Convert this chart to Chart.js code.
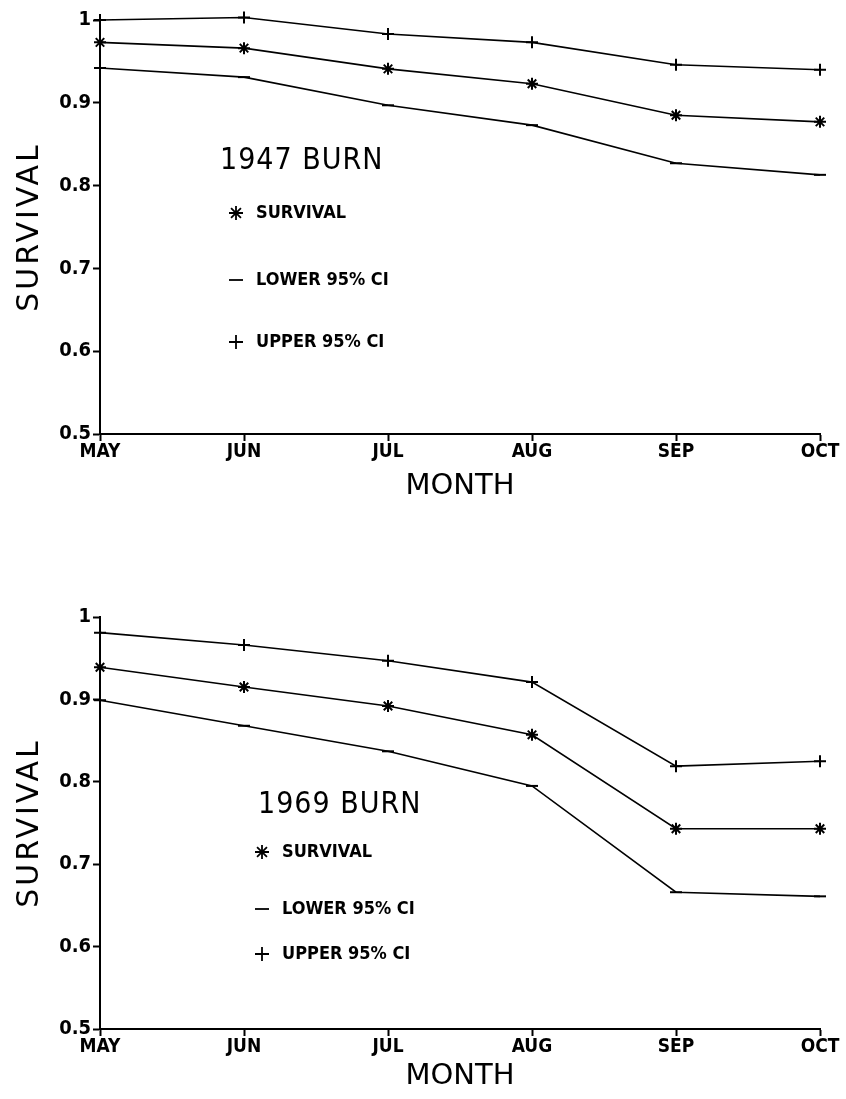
<!DOCTYPE html>
<html>
<head>
<meta charset="utf-8">
<script src="https://cdn.jsdelivr.net/npm/chart.js@4.4.1/dist/chart.umd.min.js"></script>
<style>
  body { margin: 0; background: #fff; }
  .box { position: relative; width: 846px; height: 549px; }
</style>
</head>
<body>
<div class="box"><canvas id="c1"></canvas></div>
<div class="box"><canvas id="c2"></canvas></div>
<script>
const months = ['MAY', 'JUN', 'JUL', 'AUG', 'SEP', 'OCT'];

// 1947 burn
const surv1947 = [0.973, 0.966, 0.941, 0.923, 0.885, 0.877];
const lower1947 = [0.942, 0.931, 0.897, 0.873, 0.827, 0.813];
const upper1947 = [1.0, 1.003, 0.983, 0.973, 0.946, 0.940];

// 1969 burn
const surv1969 = [0.939, 0.915, 0.892, 0.857, 0.743, 0.743];
const lower1969 = [0.899, 0.868, 0.837, 0.795, 0.666, 0.661];
const upper1969 = [0.981, 0.966, 0.947, 0.921, 0.819, 0.825];

const legendLabels = ['SURVIVAL', 'LOWER 95% CI', 'UPPER 95% CI'];
const markerStyles = ['star', 'line', 'cross'];

const boldFont = "'DejaVu Sans Condensed', 'DejaVu Sans', sans-serif";
const plainFont = "'DejaVu Sans', sans-serif";

// draws the "19xx BURN" label, the in-plot key and the rotated y title
function keyPlugin(title, tx, ty, kx, kys) {
  return {
    id: 'key',
    afterDraw(chart) {
      const ctx = chart.ctx;
      const area = chart.chartArea;
      ctx.save();
      ctx.fillStyle = '#000';
      ctx.strokeStyle = '#000';
      ctx.textBaseline = 'middle';
      ctx.textAlign = 'left';
      ctx.font = '30px ' + boldFont;
      if (ctx.letterSpacing !== undefined) ctx.letterSpacing = '1px';
      ctx.fillText(title, tx, ty);

      // y axis title
      ctx.save();
      ctx.translate(30, (area.top + area.bottom) / 2);
      ctx.rotate(-Math.PI / 2);
      ctx.textAlign = 'center';
      ctx.font = '30px ' + plainFont;
      if (ctx.letterSpacing !== undefined) ctx.letterSpacing = '3px';
      ctx.fillText('SURVIVAL', 0, 0);
      ctx.restore();

      if (ctx.letterSpacing !== undefined) ctx.letterSpacing = '0px';
      ctx.font = 'bold 18px ' + boldFont;
      legendLabels.forEach((lab, i) => {
        ctx.lineWidth = 1.8;
        Chart.helpers.drawPoint(ctx, {pointStyle: markerStyles[i], radius: 7, rotation: 0, borderWidth: 1.8}, kx, kys[i]);
        ctx.fillText(lab, kx + 20, kys[i]);
      });
      ctx.restore();
    }
  };
}

function makeChart(id, surv, lower, upper, padTop, padBottom, xHeight, plugin) {
  const ds = (data, style, r) => ({
    data: data,
    borderColor: '#000',
    backgroundColor: '#000',
    borderWidth: 1.6,
    pointStyle: style,
    pointRadius: r,
    pointBorderWidth: 2,
    tension: 0,
    clip: false
  });
  return new Chart(document.getElementById(id), {
    type: 'line',
    data: {
      labels: months,
      datasets: [
        ds(surv, 'star', 6),
        ds(lower, 'line', 6),
        ds(upper, 'cross', 6)
      ]
    },
    options: {
      responsive: true,
      maintainAspectRatio: false,
      animation: false,
      layout: { padding: { top: padTop, right: 26, left: 0, bottom: padBottom } },
      plugins: { legend: { display: false }, tooltip: { enabled: false } },
      scales: {
        x: {
          offset: false,
          grid: { drawOnChartArea: false, color: '#000', tickLength: 7, tickWidth: 2 },
          border: { color: '#000', width: 2 },
          ticks: { color: '#000', font: { family: boldFont, size: 19, weight: 'bold' }, padding: 0, maxRotation: 0 },
          title: { display: true, text: 'MONTH', color: '#000', font: { family: plainFont, size: 29 }, padding: { top: 6 } },
          afterFit: s => { s.height = xHeight; }
        },
        y: {
          min: 0.5,
          max: 1,
          grid: { drawOnChartArea: false, color: '#000', tickLength: 7, tickWidth: 2 },
          border: { color: '#000', width: 2 },
          ticks: {
            stepSize: 0.1,
            color: '#000',
            padding: 2,
            font: { family: boldFont, size: 20, weight: 'bold' },
            callback: v => (Math.abs(v - 1) < 1e-9 ? '1' : v.toFixed(1))
          },
          afterFit: s => { s.width = 100; }
        }
      }
    },
    plugins: [plugin]
  });
}

makeChart('c1', surv1947, lower1947, upper1947, 20, 41, 74,
  keyPlugin('1947 BURN', 220, 161, 236, [213, 280, 342]));
makeChart('c2', surv1969, lower1969, upper1969, 68, 0, 69,
  keyPlugin('1969 BURN', 258, 256, 262, [303, 360, 405]));
</script>
</body>
</html>
